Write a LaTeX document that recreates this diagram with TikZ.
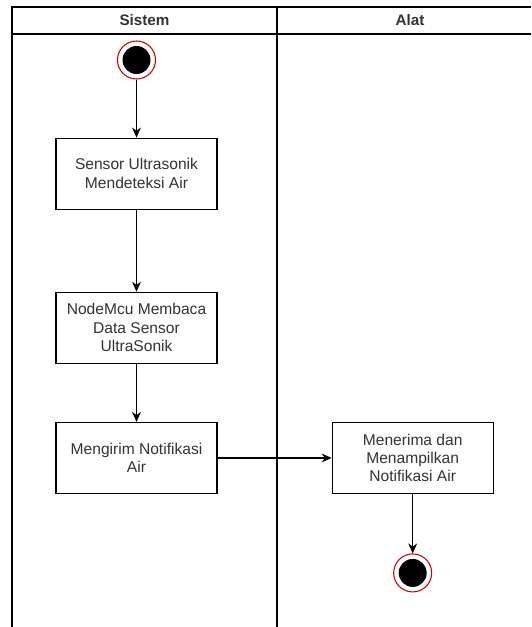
\documentclass[tikz,border=0pt]{standalone}
\usepackage{fontspec}
\setmainfont{Liberation Sans}
\usetikzlibrary{arrows.meta, positioning}

\begin{document}
\begin{tikzpicture}[
            x = 0.03cm, y = -0.03cm, % one unit is one pixel of the reference
            > = {Stealth[length=8.5pt, width=7.5pt]}, % arrow head style
            auto,
            node distance = 1.74cm, % distance between nodes
            semithick % line style
        ]

        \tikzstyle{every node}=[
            font = \fontsize{13.3}{15.7}\selectfont,
            text = black!80
        ]

        \tikzstyle{activity}=[
            draw = black,
            line width = 1pt,
            fill = white,
            align = center,
            inner sep = 2pt,
            minimum width = 4.83cm,
            minimum height = 2.13cm
        ]

        \tikzstyle{state}=[
            circle,
            draw = red!80!black,
            line width = 0.9pt,
            fill = white,
            inner sep = 0pt,
            minimum size = 1.14cm,
            label = {[circle, fill = black, inner sep = 0pt, minimum size = 0.84cm]center:{}}
        ]

        \tikzstyle{lane}=[
            draw = black,
            line width = 1.5pt
        ]

        \useasboundingbox (0,0) rectangle (531,627);

        % swimlanes
        \draw[lane] (12,627) -- (12,7) -- (531,7);
        \draw[lane] (12,34) -- (531,34);
        \draw[lane] (277,7) -- (277,627);
        \node[font = \fontsize{13}{15.7}\selectfont\bfseries] (sistem) at (144.5,20.5) {Sistem};
        \node[font = \fontsize{13}{15.7}\selectfont\bfseries] (alat) at (410,20.5) {Alat};

        \node[state] (start) at (136.5,60) {};
        \node[activity] (sensor) [below=1.74cm of start] {Sensor Ultrasonik\\Mendeteksi Air};
        \node[activity] (baca) [below=2.46cm of sensor] {NodeMcu Membaca\\Data Sensor\\UltraSonik};
        \node[activity] (kirim) [below=of baca] {Mengirim Notifikasi\\Air};
        \node[activity] (terima) [right=3.42cm of kirim] {Menerima dan\\Menampilkan\\Notifikasi Air};
        \node[state] (end) [below=1.78cm of terima] {};

        \path[->, line width = 1pt] (start) edge (sensor);
        \path[->, line width = 1pt] (sensor) edge (baca);
        \path[->, line width = 1pt] (baca) edge (kirim);
        \path[->, line width = 1pt] (kirim) edge (terima);
        \path[->, line width = 1pt] (terima) edge (end);

    \end{tikzpicture}
\end{document}
